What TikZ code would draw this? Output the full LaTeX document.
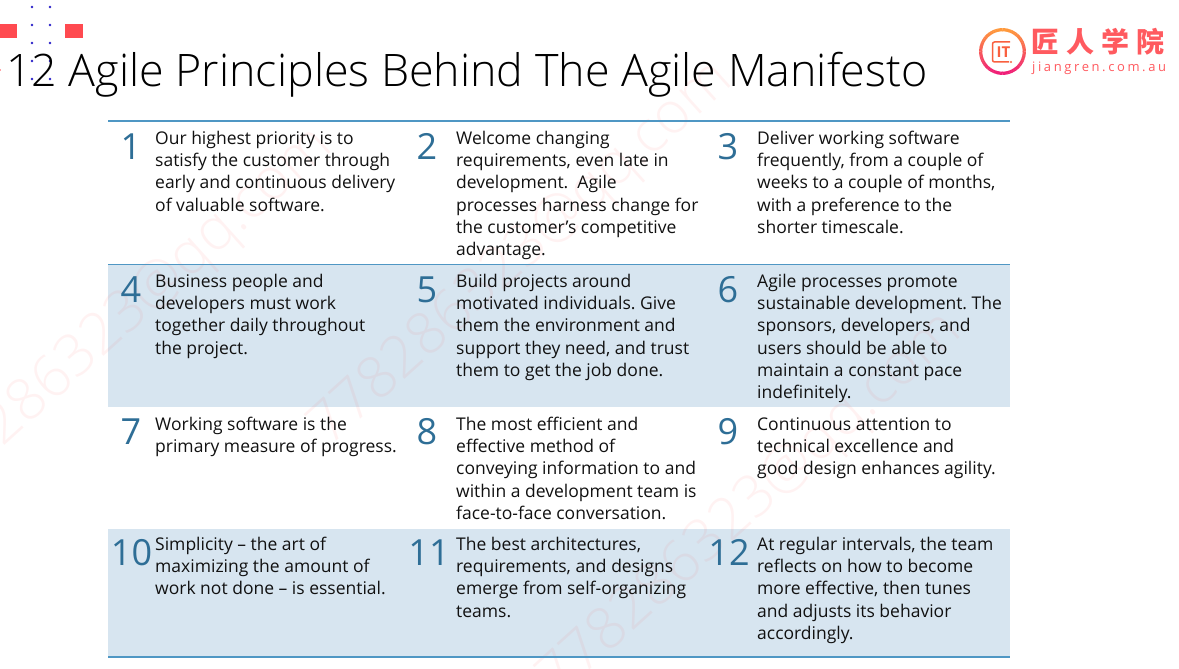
\documentclass[tikz,border=0pt]{standalone}
\usepackage{fontspec}
\setmainfont{Open Sans}
\newfontfamily\cjkfont[LetterSpace=25]{Noto Sans CJK SC}
\newfontfamily\urlfont[LetterSpace=20]{Open Sans}
\newfontfamily\lightfont{Open Sans Light}
\definecolor{tealnum}{HTML}{2E6E96}
\definecolor{rulecol}{HTML}{4F97C4}
\definecolor{bandcol}{HTML}{D7E5F0}
\definecolor{redsq}{HTML}{FF4A50}
\definecolor{dotcol}{HTML}{2A22C8}
\definecolor{wm}{HTML}{FF3030}
\definecolor{logored}{HTML}{FF5A5F}
\definecolor{textcol}{HTML}{111111}
\definecolor{ringtop}{HTML}{FF9A3C}
\definecolor{ringbot}{HTML}{F01E78}
\definecolor{innerc}{HTML}{F9603F}
\tikzset{
  x=1pt,y=-1pt,
  num/.style={anchor=base,inner sep=0,text=tealnum,font=\fontsize{36}{36}\selectfont},
  body/.style={anchor=north west,inner sep=0,align=left,text=textcol,font=\frenchspacing\fontsize{17.5}{22.2}\selectfont},
  wmark/.style={anchor=base west,inner sep=0,text=wm,text opacity=0.06,rotate=42,font=\lightfont\fontsize{58}{58}\selectfont},
  band/.style={fill=bandcol,draw=none},
  tablerule/.style={draw=rulecol,line width=1.1pt},
  sq/.style={fill=redsq,draw=none},
  dot/.style={circle,fill=dotcol,inner sep=0,minimum size=2.6pt},
}
\begin{document}
\begin{tikzpicture}
\useasboundingbox (0,0) rectangle (1179,669);
\fill[white] (0,0) rectangle (1179,669);
% bands
\fill[band] (108,265) rectangle (1010,407);
\fill[band] (108,529) rectangle (1010,657);
% watermarks
\begin{scope}
\clip (0,0) rectangle (1179,669);
\node[wmark] (w1) at (-71,514) {778286323@qq.com};
\node[wmark] (w2) at (329,448) {778286323@qq.com};
\node[wmark] (w3) at (558,699) {778286323@qq.com};
\end{scope}
% rules
\draw[tablerule] (108,121) -- (1010,121);
\draw[tablerule] (108,264.5) -- (1010,264.5);
\draw[tablerule,line width=1.5pt] (108,657) -- (1010,657);
% decoration
\fill[sq] (0,24) rectangle (17,38.5);
\fill[sq] (65,24) rectangle (83,38.5);
\fill[sq,opacity=.5] (0,69) rectangle (1,71);
\foreach \px in {32,50}{\foreach \py in {7,25,43,61,79}{\node[dot] at (\px,\py) {};}}
% title
\node[anchor=base west,inner sep=0,text=black,font=\lightfont\fontsize{44.8}{44.8}\selectfont] (title) at (6,87) {12 Agile Principles Behind The Agile Manifesto};
% numbers
\node[num] (n1) at (131,159) {1};
\node[num] (n2) at (427,159) {2};
\node[num] (n3) at (728,159) {3};
\node[num] (n4) at (131,302) {4};
\node[num] (n5) at (427,302) {5};
\node[num] (n6) at (728,302) {6};
\node[num] (n7) at (131,444) {7};
\node[num] (n8) at (427,444) {8};
\node[num] (n9) at (728,444) {9};
\node[num] (n10) at (131.5,565) {10};
\node[num] (n11) at (429,565) {11};
\node[num] (n12) at (729,565) {12};
% texts
\node[body] (t1) at (155,131) {Our highest priority is to\\satisfy the customer through\\early and continuous delivery\\of valuable software.};
\node[body] (t2) at (456,131) {Welcome changing\\requirements, even late in\\development.\ \ Agile\\processes harness change for\\the customer’s competitive\\advantage.};
\node[body] (t3) at (757,131) {Deliver working software\\frequently, from a couple of\\weeks to a couple of months,\\with a preference to the\\shorter timescale.};
\node[body] (t4) at (155,274) {Business people and\\developers must work\\together daily throughout\\the project.};
\node[body] (t5) at (456,274) {Build projects around\\motivated individuals. Give\\them the environment and\\support they need, and trust\\them to get the job done.};
\node[body] (t6) at (757,274) {Agile processes promote\\sustainable development. The\\sponsors, developers, and\\users should be able to\\maintain a constant pace\\indefinitely.};
\node[body] (t7) at (155,417) {Working software is the\\primary measure of progress.};
\node[body] (t8) at (456,417) {The most efficient and\\effective method of\\conveying information to and\\within a development team is\\face-to-face conversation.};
\node[body] (t9) at (757,417) {Continuous attention to\\technical excellence and\\good design enhances agility.};
\node[body] (t10) at (155,537) {Simplicity – the art of\\maximizing the amount of\\work not done – is essential.};
\node[body] (t11) at (456,537) {The best architectures,\\requirements, and designs\\emerge from self-organizing\\teams.};
\node[body] (t12) at (757,537) {At regular intervals, the team\\reflects on how to become\\more effective, then tunes\\and adjusts its behavior\\accordingly.};
% logo
\foreach \a in {0,6,...,354}{
  \pgfmathsetmacro{\m}{50+50*sin(\a+3)}
  \colorlet{ringc}{ringtop!\m!ringbot}
  \draw[line width=3.2pt,color=ringc] ({1002.5+21.8*cos(\a)},{51.5-21.8*sin(\a)}) arc[start angle=-\a,delta angle=-6.6,radius=21.8];
}
\draw[line width=1.5pt,color=innerc,rounded corners=2pt] (1010,42) -- (992.5,42) -- (992.5,62) -- (1009,62);
\fill[innerc] (1011,62) circle (1.1pt);
\node[anchor=center,inner sep=0,text=innerc,font=\bfseries\fontsize{15}{15}\selectfont] (it) at (1003.5,52) {IT};
\node[anchor=base west,inner sep=0,text=logored,font=\cjkfont\bfseries\fontsize{28}{28}\selectfont] (cjk) at (1031,52.5) {匠人学院};
\node[anchor=base west,inner sep=0,text=logored,font=\urlfont\fontsize{13}{13}\selectfont] (url) at (1032,72) {jiangren.com.au};
\end{tikzpicture}
\end{document}
